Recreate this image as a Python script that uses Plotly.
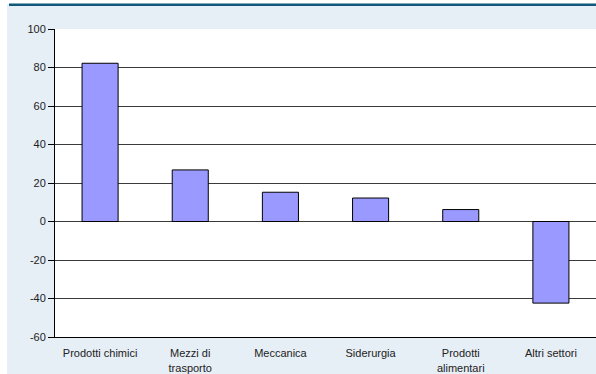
import plotly.graph_objects as go

categories = ["Prodotti chimici", "Mezzi di<br>trasporto", "Meccanica", "Siderurgia",
              "Prodotti<br>alimentari", "Altri settori"]
values = [82.2, 26.8, 15.2, 12.2, 6.2, -42.4]
y_ticks = [-60, -40, -20, 0, 20, 40, 60, 80, 100]
y_tick_text = [str(v) for v in y_ticks]

W, H = 596, 374
L, R, T, B = 55, 0, 29, 37
pw, ph = W - L - R, H - T - B

def px_x(p):
    return (p - L) / pw

def px_y(p):
    return (H - B - p) / ph

fig = go.Figure(go.Bar(
    x=categories, y=values,
    marker=dict(color="#9999FF", line=dict(color="#000000", width=1)),
    width=0.4,
))

fig.update_layout(
    width=W, height=H,
    margin=dict(l=L, r=R, t=T, b=B),
    paper_bgcolor="#E6EEF6",
    plot_bgcolor="#FFFFFF",
    showlegend=False,
    font=dict(family="Liberation Sans, Arial, sans-serif", size=11, color="#222222"),
    xaxis=dict(
        showgrid=False, showline=True, linecolor="#000000", linewidth=1,
        ticks="outside", ticklen=6, tickcolor="rgba(0,0,0,0)",
        tickfont=dict(size=11), fixedrange=True,
    ),
    yaxis=dict(
        range=[-60, 100], tickvals=y_ticks, ticktext=y_tick_text,
        showgrid=True, gridcolor="#3A3A3A",
        gridwidth=1, zeroline=True, zerolinecolor="#3A3A3A", zerolinewidth=1,
        showline=True, linecolor="#000000", linewidth=1,
        ticks="outside", ticklen=6, tickcolor="#000000", tickfont=dict(size=11),
    ),
    shapes=[
        dict(type="rect", xref="paper", yref="paper", x0=px_x(-5), x1=px_x(7),
             y0=px_y(H + 5), y1=px_y(-5), fillcolor="#FFFFFF", line=dict(width=0), layer="above"),
        dict(type="rect", xref="paper", yref="paper", x0=px_x(-5), x1=px_x(W + 5),
             y0=px_y(4), y1=px_y(-5), fillcolor="#FFFFFF", line=dict(width=0), layer="above"),
        dict(type="line", xref="paper", yref="paper", x0=px_x(9), x1=px_x(W + 5),
             y0=px_y(4.8), y1=px_y(4.8), line=dict(color="#11587A", width=2.5), layer="above"),
    ],
)

fig.write_html("out.html")
